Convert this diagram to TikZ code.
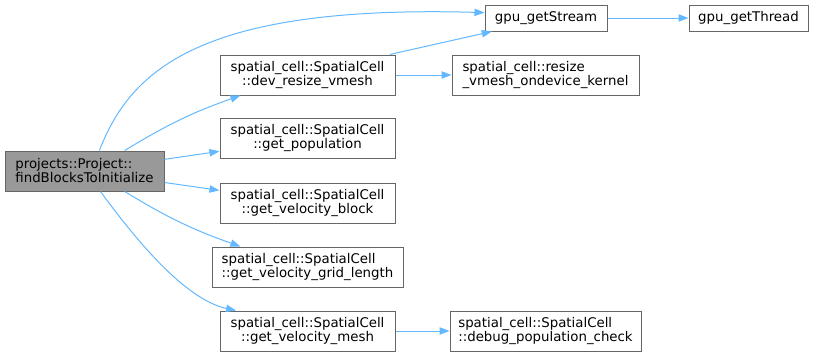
\documentclass[tikz,border=0pt]{standalone}
\usepackage{fontspec}
\setmainfont{DejaVu Sans}
\usepackage{tikz}
\usetikzlibrary{arrows.meta, positioning, calc}
\definecolor{edgeblue}{HTML}{63B8FF}
\definecolor{boxgray}{HTML}{666666}
\definecolor{maingray}{HTML}{999999}

\begin{document}
\begin{tikzpicture}[
    x=0.75pt, y=-0.75pt,
    func/.style={rectangle, draw=boxgray, fill=white, line width=0.75pt, minimum height=30pt, inner sep=0pt, align=center, font=\fontsize{10}{10.5}\selectfont},
    current/.style={func, fill=maingray},
    call/.style={draw=edgeblue, line width=0.75pt, -{Triangle[length=7.5pt, width=5.5pt]}}
]
\useasboundingbox (0,0) rectangle (813,357);
\node[current, align=left, minimum width=119.25pt] (main) at (84.5, 171) {projects::Project::\\findBlocksToInitialize};
\node[func, minimum width=91.5pt, minimum height=19.5pt] (stream) at (546, 18) {gpu\_getStream};
\node[func, minimum width=89.25pt, minimum height=19.5pt] (thread) at (748.5, 18) {gpu\_getThread};
\node[func, minimum width=131.25pt] (devresize) at (307.5, 75) {spatial\_cell::SpatialCell\\::dev\_resize\_vmesh};
\node[func, align=left, minimum width=140.25pt] (kernel) at (545.5, 75) {spatial\_cell::resize\\\_vmesh\_ondevice\_kernel};
\node[func, minimum width=131.25pt] (population) at (307.5, 138.5) {spatial\_cell::SpatialCell\\::get\_population};
\node[func, minimum width=131.25pt] (vblock) at (307.5, 203) {spatial\_cell::SpatialCell\\::get\_velocity\_block};
\node[func, align=left, minimum width=143.25pt] (gridlen) at (307.5, 267) {spatial\_cell::SpatialCell\\::get\_velocity\_grid\_length};
\node[func, minimum width=131.25pt] (vmesh) at (307.5, 331) {spatial\_cell::SpatialCell\\::get\_velocity\_mesh};
\node[func, align=left, minimum width=143.25pt] (debug) at (545.5, 331) {spatial\_cell::SpatialCell\\::debug\_population\_check};
\draw[call] (main.54) .. controls +(31,-80) and +(-285,-8) .. (stream.175);
\draw[call] (main.27) to[bend left=6] (devresize.197);
\draw[call] (main) -- (population);
\draw[call] (main) -- (vblock);
\draw[call] (main.-27) to[bend right=6] (gridlen.163);
\draw[call] (main.-52) .. controls +(35,48) and +(-51,-11) .. (vmesh.164);
\draw[call] (devresize.14) -- (stream.194);
\draw[call] (devresize) -- (kernel);
\draw[call] (stream) -- (thread);
\draw[call] (vmesh) -- (debug);
\end{tikzpicture}
\end{document}
